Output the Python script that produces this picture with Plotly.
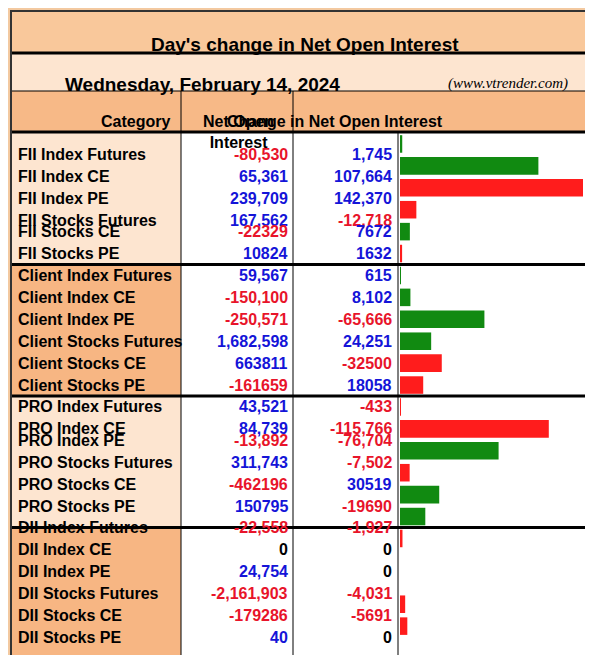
import plotly.graph_objects as go

categories = ["FII Index Futures","FII Index CE","FII Index PE","FII Stocks Futures","FII Stocks CE","FII Stocks PE",
 "Client Index Futures","Client Index CE","Client Index PE","Client Stocks Futures","Client Stocks CE","Client Stocks PE",
 "PRO Index Futures","PRO Index CE","PRO Index PE","PRO Stocks Futures","PRO Stocks CE","PRO Stocks PE",
 "DII Index Futures","DII Index CE","DII Index PE","DII Stocks Futures","DII Stocks CE","DII Stocks PE"]
net_oi = [-80530,65361,239709,167562,-22329,10824,59567,-150100,-250571,1682598,663811,-161659,
          43521,84739,-13892,311743,-462196,150795,-22558,0,24754,-2161903,-179286,40]
change = [1745,107664,142370,-12718,7672,1632,615,8102,-65666,24251,-32500,18058,
          -433,-115766,-76704,-7502,30519,-19690,-1927,0,0,-4031,-5691,0]
# rows whose source shows numbers without thousands separators
plain = {"FII Stocks CE","FII Stocks PE","Client Stocks CE","Client Stocks PE","PRO Stocks CE","PRO Stocks PE",
         "DII Stocks CE","DII Stocks PE"}
title = "Day's change in Net Open Interest"
date_text = "Wednesday, February 14, 2024"
site = "(www.vtrender.com)"

W, H = 593, 655
def px(x): return x / W
def py(y): return 1 - y / H

GREEN, RED, BLUE, NRED = "#118a11", "#ff1c1c", "#1414d8", "#e8142a"
def fmt(v, c):
    return f"{v}" if c in plain else f"{v:,}"
def numcol(v):
    return "black" if v == 0 else (BLUE if v > 0 else NRED)
def barcol(c, v):
    pos = v >= 0
    if c.endswith("PE"):
        pos = not pos
    return GREEN if pos else RED

top, bot = 125, 651
rh = (bot - top) / len(categories)

fig = go.Figure(go.Bar(
    x=[abs(v) for v in change], y=categories, orientation="h",
    marker=dict(color=[barcol(c, v) for c, v in zip(categories, change)], line=dict(width=0)),
    width=0.8, hoverinfo="skip"))

shapes = []
def rect(x0, y0, x1, y1, fill, lw=0, lc="black"):
    shapes.append(dict(type="rect", xref="paper", yref="paper", x0=px(x0), x1=px(x1), y0=py(y0), y1=py(y1),
                       fillcolor=fill, line=dict(width=lw, color=lc), layer="below"))
def line(x0, y0, x1, y1, w=1, c="black"):
    shapes.append(dict(type="line", xref="paper", yref="paper", x0=px(x0), x1=px(x1), y0=py(y0), y1=py(y1),
                       line=dict(width=w, color=c), layer="above"))

rect(0, 0, W, H, "#f3c9a0")
rect(4, 4, 589, 45, "#f9c89b")
rect(4, 45, 589, 83, "#fde5d0")
rect(4, 83, 589, 123, "#f7b987")
rect(4, 123, 589, 651, "white")
for g in range(4):
    y0 = top + g * 6 * rh
    rect(4, y0, 173, y0 + 6 * rh, "#fde5d0" if g % 2 == 0 else "#f7b683")
line(3, 45, 590, 45, 3)
line(3, 83, 590, 83, 1)
line(3, 124, 590, 124, 3)
for g in range(1, 4):
    line(3, top + g * 6 * rh, 590, top + g * 6 * rh, 3)
line(173, 83, 173, 651, 1)
line(285, 83, 285, 651, 1)
line(390, 124, 390, 651, 1)
shapes.append(dict(type="rect", xref="paper", yref="paper", x0=px(3), x1=px(590), y0=py(3), y1=py(652),
                   line=dict(width=2, color="#333"), fillcolor="rgba(0,0,0,0)", layer="above"))

ann = []
F = "Liberation Sans, Arial, sans-serif"
def A(**kw):
    kw.setdefault("xref", "paper"); kw.setdefault("yref", "paper"); kw.setdefault("showarrow", False)
    ann.append(kw)
A(x=px(297), y=py(24), text=f"<b>{title}</b>", font=dict(size=19, color="black", family=F))
A(x=px(55), y=py(64), text=f"<b>{date_text}</b>", xanchor="left", font=dict(size=19, color="black", family=F))
A(x=px(562), y=py(65), text=f"<i>{site}</i>", xanchor="right", font=dict(size=15, color="black", family="Liberation Serif, serif"))
A(x=px(91), y=py(103), text="<b>Category</b>", font=dict(size=16, color="black", family=F))
A(x=px(230), y=py(103), text="<b>Net Open<br>Interest</b>", font=dict(size=16, color="black", family=F))
A(x=px(437), y=py(103), text="<b>Change in Net Open Interest</b>", font=dict(size=16, color="black", family=F))
for i, (c, n, d) in enumerate(zip(categories, net_oi, change)):
    yc = top + (i + 0.5) * rh
    A(x=px(8), y=py(yc), text=f"<b>{c}</b>", xanchor="left", font=dict(size=16, color="black", family=F))
    A(x=px(282), y=py(yc), text=f"<b>{fmt(n, c)}</b>", xanchor="right", font=dict(size=16, color=numcol(n), family=F))
    A(x=px(386), y=py(yc), text=f"<b>{fmt(d, c)}</b>", xanchor="right", font=dict(size=16, color=numcol(d), family=F))

xmax = max(abs(v) for v in change) * (589 - 392) / (575 - 392)
fig.update_layout(
    width=W, height=H, margin=dict(l=0, r=0, t=0, b=0), showlegend=False,
    paper_bgcolor="rgba(0,0,0,0)", plot_bgcolor="rgba(0,0,0,0)",
    xaxis=dict(domain=[px(392), px(589)], range=[0, xmax], visible=False, fixedrange=True),
    yaxis=dict(domain=[py(bot), py(top)], autorange="reversed", visible=False, fixedrange=True),
    shapes=shapes, annotations=ann)
fig.write_html("out.html")
